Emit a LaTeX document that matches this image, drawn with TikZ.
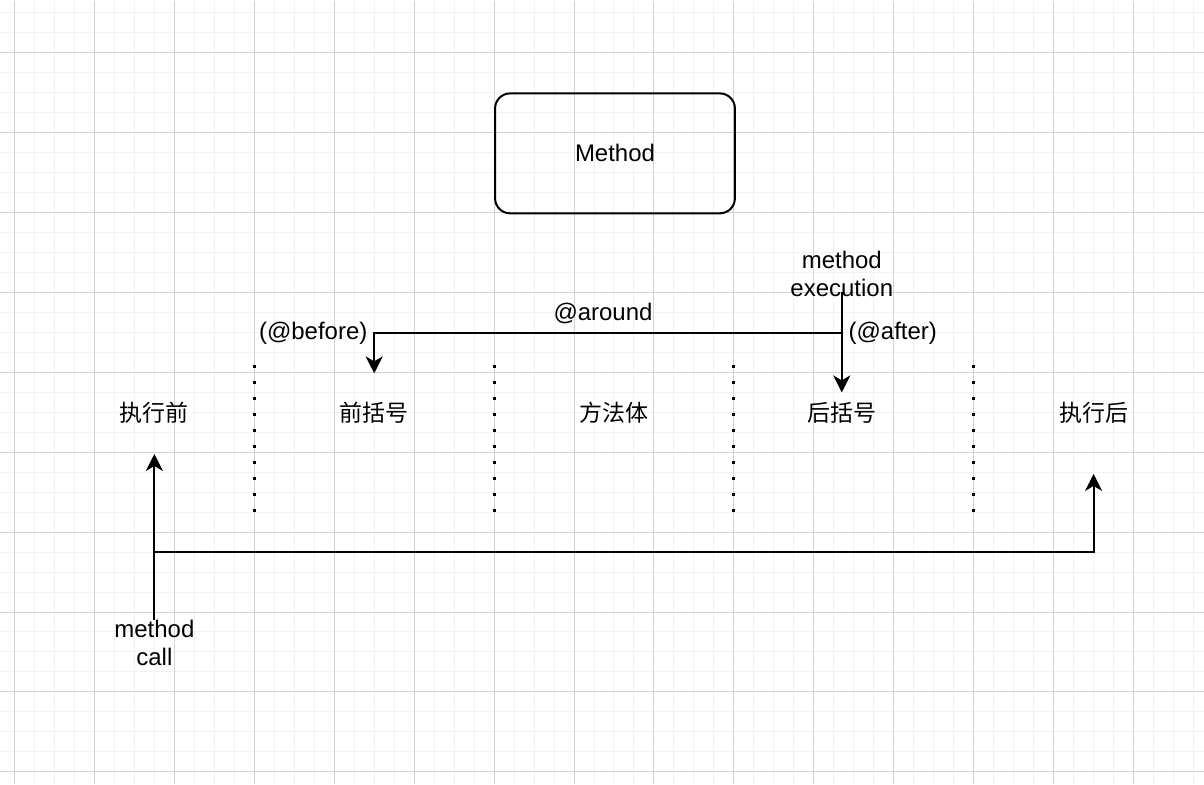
\documentclass[tikz,border=0pt]{standalone}
\usepackage{fontspec}
\setmainfont{Liberation Sans}
\newfontfamily\cjk{Noto Sans CJK SC}
\usetikzlibrary{arrows.meta,positioning}

\begin{document}
\begin{tikzpicture}[
    x=1pt, y=-1pt,
    font=\fontsize{24}{28}\selectfont,
    box/.style={draw, rounded corners=15pt, line width=2pt,
                minimum width=240pt, minimum height=120pt},
    lbl/.style={align=center, inner sep=0pt},
    phase/.style={font=\fontsize{23}{28}\selectfont\cjk, inner sep=0pt},
    arr/.style={-{Stealth[length=17pt, width=17pt, inset=5pt]}, line width=2pt},
    sep/.style={line width=3pt, dash pattern=on 3pt off 13pt},
    minor/.style={gray!10, line width=1pt},
    major/.style={gray!35, line width=1pt},
  ]
  % background grid
  \fill[white] (0,0) rectangle (1204,784);
  \foreach \x in {14,34,...,1194} \draw[minor] (\x,0) -- (\x,784);
  \foreach \y in {12,32,...,772} \draw[minor] (0,\y) -- (1204,\y);
  \foreach \x in {14,94,...,1174} \draw[major] (\x,0) -- (\x,784);
  \foreach \y in {52,132,...,772} \draw[major] (0,\y) -- (1204,\y);
  \useasboundingbox (0,0) rectangle (1204,784);

  \node[box] (method) at (615,153) {Method};

  \node[phase] (pre)   at (154,413)  {执行前};
  \node[phase] (open)  at (374,413)  {前括号};
  \node[phase] (body)  at (614,413)  {方法体};
  \node[phase] (close) at (842,413)  {后括号};
  \node[phase] (post)  at (1094,413) {执行后};

  % phase separators
  \foreach \x in {254,494,734,974}
    \draw[sep] (\x,364.5) -- (\x,512);

  \node[lbl] (call) at (154,643) {method\\call};
  \node[lbl] (exec) at (842,274) {method\\execution};
  \node (around) at (603,313) {@around};
  \node (before) at (313,333) {(@before)};
  \node (after)  at (893,333) {(@after)};

  \coordinate[below=30pt of pre] (preTip);
  \coordinate[below=50pt of post] (postTip);
  \coordinate[above=29pt of open] (openTip);
  \coordinate[above=10pt of close] (closeTip);
  \coordinate (split) at (call.north |- 0,552);
  \coordinate (fork) at (exec.south |- after.west);

  \draw[arr] (call.north) -- (preTip);
  \draw[arr] (split) -| (postTip);
  \draw[arr] ([yshift=5pt]exec.south) -- (closeTip);
  \draw[arr] (fork) -| (openTip);
\end{tikzpicture}
\end{document}
